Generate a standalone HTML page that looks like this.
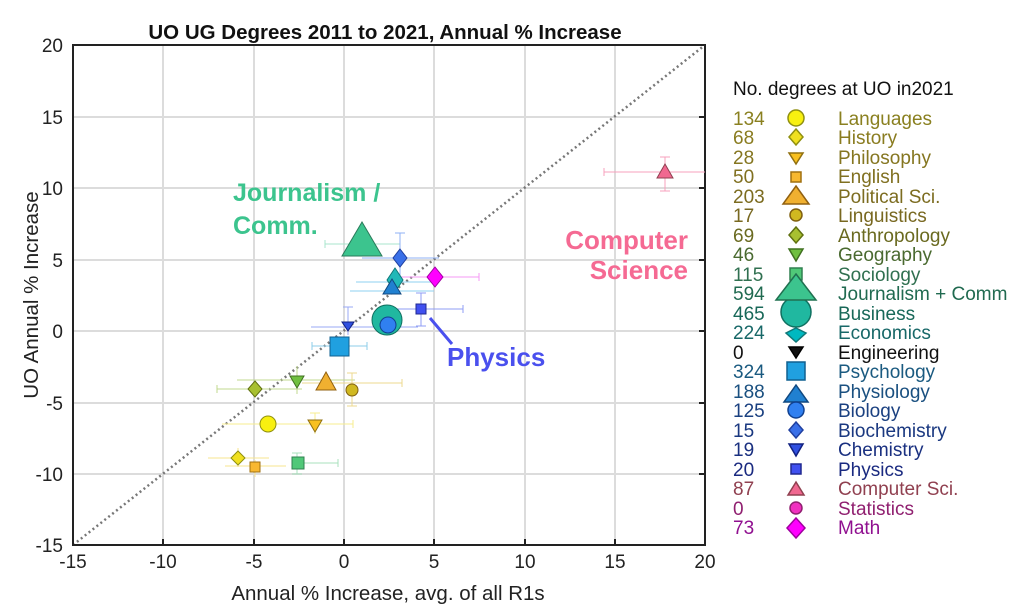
<!DOCTYPE html><html><head><style>body{margin:0;background:#fff}svg{display:block;font-family:"Liberation Sans",sans-serif}</style></head><body>
<svg width="1023" height="614" viewBox="0 0 1023 614">
<g stroke="#dcdcdc" stroke-width="2">
<line x1="163" y1="45" x2="163" y2="545"/><line x1="254" y1="45" x2="254" y2="545"/><line x1="344" y1="45" x2="344" y2="545"/><line x1="434" y1="45" x2="434" y2="545"/><line x1="525" y1="45" x2="525" y2="545"/><line x1="615" y1="45" x2="615" y2="545"/>
<line x1="73" y1="117" x2="705" y2="117"/><line x1="73" y1="188" x2="705" y2="188"/><line x1="73" y1="260" x2="705" y2="260"/><line x1="73" y1="331" x2="705" y2="331"/><line x1="73" y1="403" x2="705" y2="403"/><line x1="73" y1="474" x2="705" y2="474"/>
</g>
<line x1="73" y1="545" x2="705" y2="45" stroke="#777" stroke-width="2.5" stroke-dasharray="2,3"/>
<rect x="73" y="45" width="632" height="500" fill="none" stroke="#222" stroke-width="2"/>
<g stroke="#222" stroke-width="2">
<line x1="163" y1="545" x2="163" y2="539"/><line x1="254" y1="545" x2="254" y2="539"/><line x1="344" y1="545" x2="344" y2="539"/><line x1="434" y1="545" x2="434" y2="539"/><line x1="525" y1="545" x2="525" y2="539"/><line x1="615" y1="545" x2="615" y2="539"/>
<line x1="705" y1="117" x2="699" y2="117"/><line x1="705" y1="188" x2="699" y2="188"/><line x1="705" y1="260" x2="699" y2="260"/><line x1="705" y1="331" x2="699" y2="331"/><line x1="705" y1="403" x2="699" y2="403"/><line x1="705" y1="474" x2="699" y2="474"/>
</g>
<g font-size="19" fill="#222" text-anchor="middle">
<text x="73" y="568">-15</text><text x="163" y="568">-10</text><text x="254" y="568">-5</text><text x="344" y="568">0</text><text x="434" y="568">5</text><text x="525" y="568">10</text><text x="615" y="568">15</text><text x="705" y="568">20</text>
</g>
<g font-size="19" fill="#222" text-anchor="end">
<text x="63" y="52">20</text><text x="63" y="124">15</text><text x="63" y="195">10</text><text x="63" y="267">5</text><text x="63" y="338">0</text><text x="63" y="410">-5</text><text x="63" y="481">-10</text><text x="63" y="552">-15</text>
</g>
<text x="388" y="600" font-size="20.5" fill="#222" text-anchor="middle">Annual % Increase, avg. of all R1s</text>
<text transform="translate(38,295) rotate(-90)" font-size="20.5" fill="#222" text-anchor="middle">UO Annual % Increase</text>
<text x="385" y="39" font-size="20.5" font-weight="bold" text-anchor="middle" fill="#111">UO UG Degrees 2011 to 2021, Annual % Increase</text>
<g stroke-width="1">
<path d="M325 244H400M325 240v8M400 240v8" stroke="#a8e6cc"/>
<path d="M362 258H439M400 233V283M395 233h10" stroke="#8fb0f5"/>
<path d="M393 277H479M435 268v18M479 273v8" stroke="#f59af5"/>
<path d="M356 282H434M350 291H434" stroke="#8fd0f0"/>
<path d="M388 309H463M421 293V326M416 293h10M416 326h10M463 305v8" stroke="#8f9cf5"/>
<path d="M311 327H418M348 307V335M343 307h10" stroke="#9aaaf5"/>
<path d="M312 346H367M312 342v8M367 342v8" stroke="#8ccde8"/>
<path d="M217 389H302M237 380H355M297 366V394M217 385v8" stroke="#c2d98f"/>
<path d="M302 383H402M352 373V406M347 373h10M347 406h10M402 379v8" stroke="#ecd88f"/>
<path d="M222 424H353M315 413V434M310 413h10M353 420v8" stroke="#f7ee8f"/>
<path d="M208 458H269M225 466H286M255 460V477M238 448V467" stroke="#f7e48f"/>
<path d="M297 453V474M292 453h10M292 474h10M297 463H338M338 459v8" stroke="#a8e0bc"/>
<path d="M604 172H705M665 157V191M660 157h10M660 191h10M604 168v8" stroke="#f7a0bc"/>
</g>
<g stroke-width="1">
<polygon points="362,222 342,256 382,256" fill="#3cc48e" stroke="#2a7a5a"/>
<polygon points="400,249 407,258 400,267 393,258" fill="#3a70e8" stroke="#2040a0"/>
<polygon points="435,267 443,277 435,287 427,277" fill="#ff00ff" stroke="#a000a0"/>
<polygon points="395,268 403,280 395,292 387,280" fill="#20b8b8" stroke="#107878"/>
<polygon points="392,279 401,294 383,294" fill="#2080d0" stroke="#104880"/>
<rect x="416" y="304" width="10" height="10" fill="#4050f0" stroke="#202890"/>
<circle cx="387" cy="320" r="15" fill="#20b8a0" stroke="#107060"/>
<circle cx="388" cy="325" r="8" fill="#3080f0" stroke="#104090"/>
<polygon points="342,322 354,322 348,331" fill="#3050e0" stroke="#102080"/>
<rect x="330" y="337" width="19" height="19" fill="#20a0e0" stroke="#106090"/>
<polygon points="255,381 262,389 255,397 248,389" fill="#a8c030" stroke="#607010"/>
<polygon points="290,376 304,376 297,388" fill="#70c040" stroke="#407020"/>
<polygon points="326,372 336,390 316,390" fill="#f0b030" stroke="#906010"/>
<circle cx="352" cy="390" r="6" fill="#d0b820" stroke="#806010"/>
<circle cx="268" cy="424" r="8" fill="#f8f010" stroke="#909010"/>
<polygon points="308,420 322,420 315,432" fill="#f8c020" stroke="#907010"/>
<polygon points="238,451 245,458 238,465 231,458" fill="#f0e020" stroke="#909010"/>
<rect x="250" y="462" width="10" height="10" fill="#f8b830" stroke="#a07010"/>
<rect x="292" y="457" width="12" height="12" fill="#50c878" stroke="#308050"/>
<polygon points="665,164 673,178 657,178" fill="#f06890" stroke="#904050"/>
</g>
<g font-weight="bold">
<text x="233" y="201" font-size="25" fill="#3cc48e">Journalism /</text>
<text x="233" y="234" font-size="25" fill="#3cc48e">Comm.</text>
<text x="688" y="249" font-size="26" fill="#f56a93" text-anchor="end">Computer</text>
<text x="688" y="279" font-size="26" fill="#f56a93" text-anchor="end">Science</text>
<text x="447" y="366" font-size="26" fill="#4a50ee">Physics</text>
</g>
<line x1="430" y1="318" x2="452" y2="344" stroke="#4a50ee" stroke-width="3"/>
<text x="733" y="95" font-size="19" fill="#111">No. degrees at UO in2021</text>
<g font-size="19">
<g fill="#8a8020"><text x="733" y="125">134</text><text x="838" y="125">Languages</text></g>
<g fill="#8a7c20"><text x="733" y="144">68</text><text x="838" y="144">History</text></g>
<g fill="#857620"><text x="733" y="164">28</text><text x="838" y="164">Philosophy</text></g>
<g fill="#807020"><text x="733" y="183">50</text><text x="838" y="183">English</text></g>
<g fill="#7c6c20"><text x="733" y="203">203</text><text x="838" y="203">Political Sci.</text></g>
<g fill="#786820"><text x="733" y="222">17</text><text x="838" y="222">Linguistics</text></g>
<g fill="#6a6a20"><text x="733" y="242">69</text><text x="838" y="242">Anthropology</text></g>
<g fill="#4a6a30"><text x="733" y="261">46</text><text x="838" y="261">Geography</text></g>
<g fill="#307050"><text x="733" y="281">115</text><text x="838" y="281">Sociology</text></g>
<g fill="#206a50"><text x="733" y="300">594</text><text x="838" y="300">Journalism + Comm</text></g>
<g fill="#186858"><text x="733" y="320">465</text><text x="838" y="320">Business</text></g>
<g fill="#186868"><text x="733" y="339">224</text><text x="838" y="339">Economics</text></g>
<g fill="#111"><text x="733" y="359">0</text><text x="838" y="359">Engineering</text></g>
<g fill="#1a5a80"><text x="733" y="378">324</text><text x="838" y="378">Psychology</text></g>
<g fill="#1a5080"><text x="733" y="398">188</text><text x="838" y="398">Physiology</text></g>
<g fill="#1a4080"><text x="733" y="417">125</text><text x="838" y="417">Biology</text></g>
<g fill="#1a3880"><text x="733" y="437">15</text><text x="838" y="437">Biochemistry</text></g>
<g fill="#1a3080"><text x="733" y="456">19</text><text x="838" y="456">Chemistry</text></g>
<g fill="#1a2a80"><text x="733" y="476">20</text><text x="838" y="476">Physics</text></g>
<g fill="#904050"><text x="733" y="495">87</text><text x="838" y="495">Computer Sci.</text></g>
<g fill="#902070"><text x="733" y="515">0</text><text x="838" y="515">Statistics</text></g>
<g fill="#901090"><text x="733" y="534">73</text><text x="838" y="534">Math</text></g>
</g>
<g stroke-width="1.5">
<circle cx="796" cy="118" r="8" fill="#f8f010" stroke="#909010"/>
<polygon points="796,129 803,137 796,145 789,137" fill="#f0e020" stroke="#909010"/>
<polygon points="789,153 803,153 796,164" fill="#f8c020" stroke="#907010"/>
<rect x="791" y="172" width="10" height="10" fill="#f8b830" stroke="#a07010"/>
<polygon points="796,186 809,204 783,204" fill="#f0b030" stroke="#906010"/>
<circle cx="796" cy="215" r="6" fill="#d0b820" stroke="#806010"/>
<polygon points="796,227 803,235 796,243 789,235" fill="#a8c030" stroke="#607010"/>
<polygon points="789,249 803,249 796,261" fill="#70c040" stroke="#407020"/>
<rect x="790" y="268" width="12" height="12" fill="#50c878" stroke="#308050"/>
<circle cx="796" cy="312" r="15" fill="#20b8a0" stroke="#107060"/>
<polygon points="796,328 806,333 796,342 786,333" fill="#00b8c0" stroke="#107878"/>
<polygon points="796,274 816,300 776,300" fill="#3cc48e" stroke="#207050"/>
<polygon points="789,347 803,347 796,358" fill="#111" stroke="#000"/>
<rect x="787" y="362" width="18" height="18" fill="#20a0e0" stroke="#106090"/>
<polygon points="796,385 808,402 784,402" fill="#2080d0" stroke="#104880"/>
<circle cx="796" cy="410" r="8" fill="#3080f0" stroke="#104090"/>
<polygon points="796,422 803,430 796,438 789,430" fill="#3a70e8" stroke="#2040a0"/>
<polygon points="789,444 803,444 796,456" fill="#3050e0" stroke="#102080"/>
<rect x="791" y="464" width="10" height="10" fill="#4050f0" stroke="#202890"/>
<polygon points="796,482 804,495 788,495" fill="#f06890" stroke="#904050"/>
<circle cx="796" cy="508" r="6" fill="#f030c0" stroke="#902070"/>
<polygon points="796,518 805,528 796,538 787,528" fill="#ff00ff" stroke="#a000a0"/>
</g>
</svg></body></html>
